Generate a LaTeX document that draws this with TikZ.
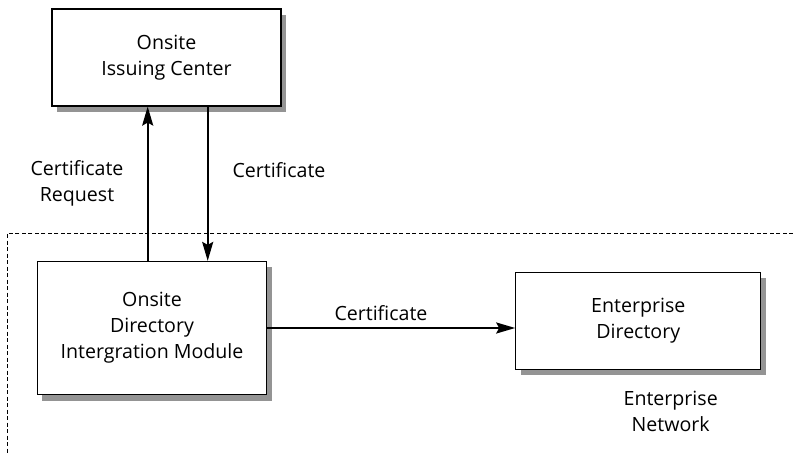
\documentclass[tikz,border=0pt]{standalone}
\usepackage{fontspec}
\setmainfont{Open Sans}
\usepackage{tikz}
\usetikzlibrary{arrows.meta,positioning,calc,shadows}

\begin{document}
\begin{tikzpicture}[x=1bp,y=-1bp,>={Stealth[length=19bp,width=11bp,inset=3bp]},
  font=\fontsize{19.6bp}{26bp}\selectfont,
  sysbox/.style={draw,line width=1.2bp,fill=white,align=center,inner sep=0pt,
    drop shadow={shadow xshift=5bp,shadow yshift=-6bp,fill=black!42,opacity=1}},
  flow/.style={->,line width=2bp},
  lbl/.style={align=center,inner sep=0pt}]
  \useasboundingbox (0,0) rectangle (793,453);
  % network boundary
  \coordinate (nr) at (793,233);
  \coordinate (nc) at (7.5,233);
  \coordinate (nb) at (7.5,453);
  \draw[line width=0.8bp,dash pattern=on 4bp off 2.5bp] (nr) -- (nc) -- (nb);
  % boxes
  \node[sysbox,minimum width=229bp,minimum height=97bp] (issue) at (166.5,57.5) {Onsite\\Issuing Center};
  \node[sysbox,minimum width=229bp,minimum height=133bp] (odim) at (152,328) {Onsite\\Directory\\Intergration Module};
  \node[sysbox,minimum width=245bp,minimum height=97bp] (entdir) at (638.3,320.7) {Enterprise\\Directory};
  % flows
  \draw[flow] ([xshift=-4.3bp]odim.north) -- ([xshift=-4.3bp]odim.north |- issue.south);
  \draw[flow] ([xshift=41.2bp]issue.south) -- ([xshift=41.2bp]issue.south |- odim.north);
  \draw[flow] (odim.east) -- (odim.east -| entdir.west);
  % labels
  \node[lbl] (lreq) at (77,183.5) {Certificate\\Request};
  \node[lbl] (lcert) at (279,170) {Certificate};
  \node[lbl] (lcert2) at (381,313) {Certificate};
  \node[lbl] (lnet) at (670.7,411) {Enterprise\\Network};
\end{tikzpicture}
\end{document}
